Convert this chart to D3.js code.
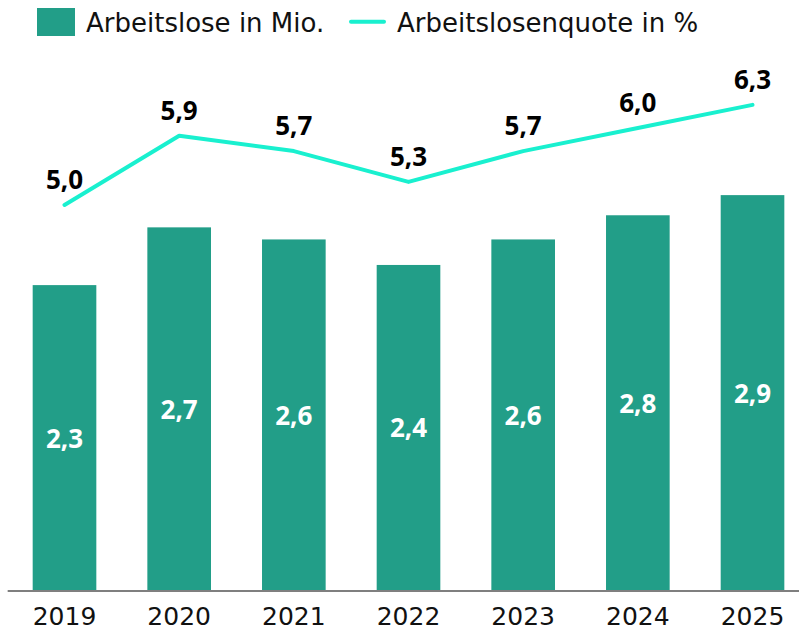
<!DOCTYPE html>
<html>
<head>
<meta charset="utf-8">
<script src="https://cdn.jsdelivr.net/npm/d3@7"></script>
<style>
  html, body { margin: 0; padding: 0; background: #fff; }
  svg { display: block; }
</style>
</head>
<body>
<svg id="chart" width="799" height="630"></svg>
<script>
const years = ["2019", "2020", "2021", "2022", "2023", "2024", "2025"];
const arbeitslose = [2.27, 2.70, 2.61, 2.42, 2.61, 2.79, 2.94];
const quote = [5.0, 5.9, 5.7, 5.3, 5.7, 6.0, 6.3];
const legendLabels = ["Arbeitslose in Mio.", "Arbeitslosenquote in %"];

const barColor = "#229e88";
const lineColor = "#19f0cf";
const textColor = "#111111";
const regFont = "'DejaVu Sans', sans-serif";
const boldFont = "'Open Sans', sans-serif";

const svg = d3.select("#chart");
const baseY = 590;
const topY = 60;

const x = d3.scaleBand().domain(years).range([7.17, 809.84])
  .paddingInner(0.445).paddingOuter(0.2225);
const yBar = d3.scaleLinear().domain([0, 3.946]).range([baseY, topY]);
const yLine = d3.scaleLinear().domain([0, 6.883]).range([baseY, topY]);

const loc = d3.formatLocale({decimal: ",", thousands: ".", grouping: [3], currency: ["", "€"]});
const fmt = loc.format(".1f");

const data = years.map((y, i) => ({year: y, a: arbeitslose[i], q: quote[i]}));

// bars
svg.append("g").selectAll("rect").data(data).join("rect")
  .attr("x", d => x(d.year))
  .attr("y", d => yBar(d.a))
  .attr("width", x.bandwidth())
  .attr("height", d => baseY - yBar(d.a))
  .attr("fill", barColor);

// bar labels
svg.append("g").selectAll("text").data(data).join("text")
  .attr("x", d => x(d.year) + x.bandwidth() / 2)
  .attr("y", d => (yBar(d.a) + baseY) / 2 + 10)
  .attr("text-anchor", "middle")
  .attr("font-family", boldFont)
  .attr("font-weight", 700)
  .attr("font-size", 26)
  .attr("fill", "#ffffff")
  .text(d => fmt(d.a));

// x axis
const axis = svg.append("g")
  .attr("transform", `translate(0,${baseY + 0.5})`)
  .call(d3.axisBottom(x).tickSize(0).tickSizeOuter(0).tickPadding(17));
axis.select(".domain").attr("stroke", "#7f7f7f").attr("stroke-width", 2);
axis.selectAll("text")
  .attr("font-family", regFont)
  .attr("font-size", 25)
  .attr("fill", textColor);

// line
const line = d3.line()
  .x(d => x(d.year) + x.bandwidth() / 2)
  .y(d => yLine(d.q));
svg.append("path").datum(data)
  .attr("d", line)
  .attr("fill", "none")
  .attr("stroke", lineColor)
  .attr("stroke-width", 4)
  .attr("stroke-linejoin", "round")
  .attr("stroke-linecap", "round");

// line labels
svg.append("g").selectAll("text").data(data).join("text")
  .attr("x", d => x(d.year) + x.bandwidth() / 2)
  .attr("y", d => yLine(d.q) - 16)
  .attr("text-anchor", "middle")
  .attr("font-family", boldFont)
  .attr("font-weight", 700)
  .attr("font-size", 26)
  .attr("fill", "#000000")
  .text(d => fmt(d.q));

// legend
const lg = svg.append("g");
lg.append("rect").attr("x", 37).attr("y", 8).attr("width", 38).attr("height", 28).attr("fill", barColor);
lg.append("text").attr("x", 86).attr("y", 32).attr("font-family", regFont).attr("font-size", 26)
  .attr("fill", textColor).text(legendLabels[0]);
lg.append("line").attr("x1", 351).attr("x2", 384).attr("y1", 21.7).attr("y2", 21.7)
  .attr("stroke", lineColor).attr("stroke-width", 4).attr("stroke-linecap", "round");
lg.append("text").attr("x", 397).attr("y", 32).attr("font-family", regFont).attr("font-size", 26)
  .attr("fill", textColor).text(legendLabels[1]);
</script>
</body>
</html>
